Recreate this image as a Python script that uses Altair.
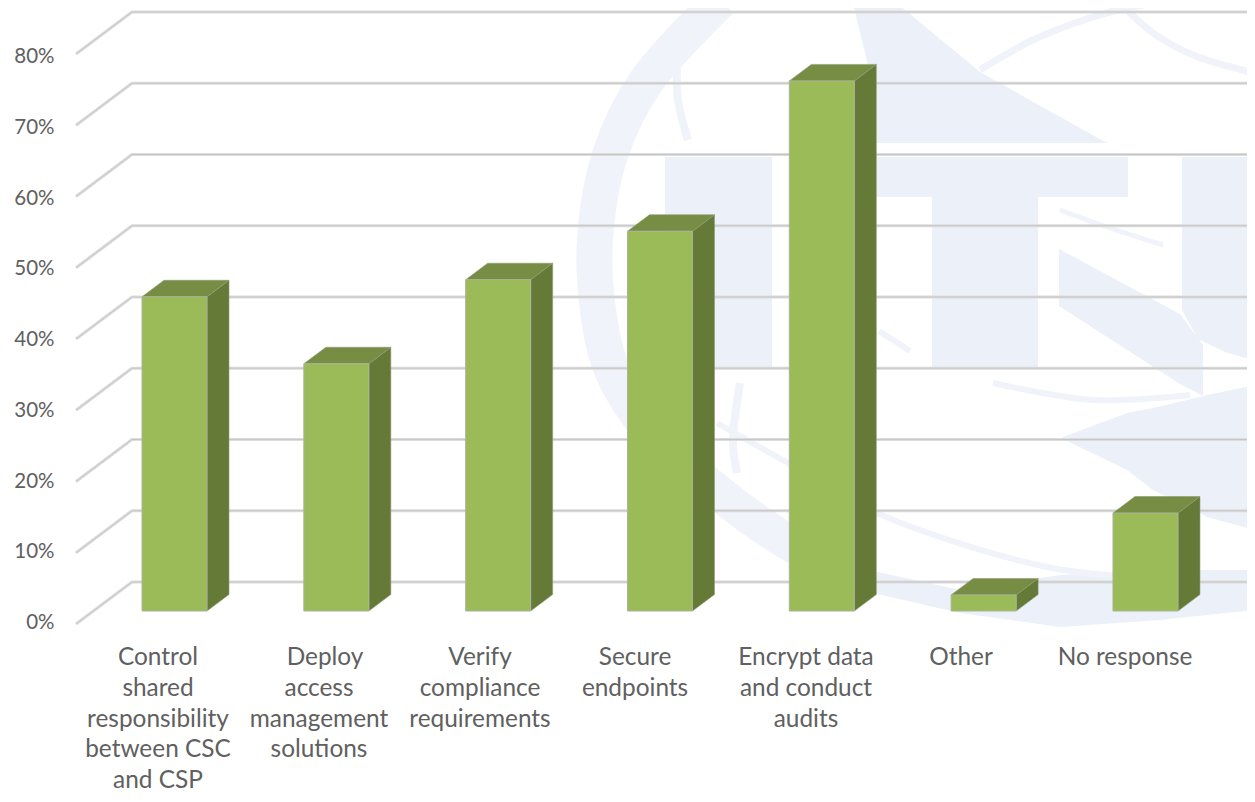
import altair as alt
import pandas as pd

# ---- chart values ----
categories = [
    ["Control", "shared", "responsibility", "between CSC", "and CSP"],
    ["Deploy", "access", "management", "solutions"],
    ["Verify", "compliance", "requirements"],
    ["Secure", "endpoints"],
    ["Encrypt data", "and conduct", "audits"],
    ["Other"],
    ["No response"],
]
values = [44.1, 34.7, 46.5, 53.3, 74.4, 2.25, 13.75]
ticks = [0, 10, 20, 30, 40, 50, 60, 70, 80]

# ---- layout helpers: category units and percent units ----
W, H = 1239, 786
STEP, X0 = 161.83, 174.5
PCT, Y0 = 7.125, 611.0


def U(px):
    return (px - X0) / STEP


def V(py):
    return (Y0 - py) / PCT


HALF = 32.5 / STEP
DX = 22 / STEP
DV = 16.5 / PCT
xs = alt.Scale(domain=[U(8), U(8 + W)], nice=False, zero=False)
ys = alt.Scale(domain=[V(8 + H), V(8)], nice=False, zero=False)
X = alt.X("x:Q", scale=xs, axis=None)
Y = alt.Y("y:Q", scale=ys, axis=None)
X2 = alt.X2("x2:Q")
Y2 = alt.Y2("y2:Q")

WM = "#ecf0f9"
WM2 = "#f0f3fa"

# ---- faint logo behind the chart ----
wm_rects = [(665, 772, 157, 367), (790, 1128, 157, 197), (932, 1038, 197, 367)]
wm_areas = {
    "wedge": ([852, 868, 876, 893, 980, 1107], [0, 0, 0, 0, 72, 143], [0, 65, 143, 143, 143, 143]),
    "u": ([1182, 1198, 1225, 1255], [157, 157, 157, 157], [310, 339, 352, 361]),
    "band": ([1059, 1180, 1203], [249, 314, 345], [306, 384, 396]),
    "right": ([1063, 1127, 1153, 1200, 1207, 1255], [437, 413, 408, 397, 395, 385], [439, 470, 490, 513, 517, 530]),
    "lens": ([860, 960, 1060, 1160, 1255], [568, 590, 575, 570, 570], [590, 613, 627, 620, 610]),
}
wm_lines = [
    (36, [(721, 0), (645, 83), (610, 155), (595, 240), (598, 310), (612, 370), (650, 430), (715, 490), (788, 542), (862, 578)]),
    (7, [(980, 70), (1033, 40), (1093, 17), (1127, 8), (1177, 0)]),
    (7, [(1120, 3), (1153, 33), (1193, 55), (1255, 73)]),
    (8, [(677, 63), (678, 100), (688, 140)]),
    (5, [(1060, 210), (1110, 228), (1163, 245)]),
    (6, [(993, 383), (1093, 400), (1190, 395)]),
    (8, [(740, 383), (733, 443), (737, 473)]),
    (6, [(717, 423), (788, 463), (879, 514), (1047, 567), (1150, 578)]),
    (6, [(879, 331), (910, 351)]),
]

layers = []
rect_df = pd.DataFrame(
    [{"x": U(a), "x2": U(b), "y": V(c), "y2": V(d)} for a, b, c, d in wm_rects]
)
layers.append(alt.Chart(rect_df).mark_rect(color=WM).encode(x=X, x2=X2, y=Y, y2=Y2))

area_rows = []
for name, (ax, at, ab) in wm_areas.items():
    for a, b, c in zip(ax, at, ab):
        area_rows.append({"id": name, "x": U(a), "y": V(b), "y2": V(c)})
layers.append(
    alt.Chart(pd.DataFrame(area_rows))
    .mark_area(color=WM, clip=True)
    .encode(x=X, y=Y, y2=Y2, detail="id:N")
)

line_rows = []
for i, (w, pts) in enumerate(wm_lines):
    for k, (a, b) in enumerate(pts):
        line_rows.append({"id": i, "k": k, "w": w, "x": U(a), "y": V(b)})
layers.append(
    alt.Chart(pd.DataFrame(line_rows))
    .mark_line(color=WM2, interpolate="catmull-rom", clip=True, strokeCap="butt")
    .encode(
        x=X,
        y=Y,
        detail="id:N",
        order="k:Q",
        strokeWidth=alt.StrokeWidth("w:Q", scale=None),
    )
)

# ---- grid: a wall line and a floor-side line for each tick ----
BACK, FRONT = V(582), V(624)
grid_rows = []
for t in ticks:
    grid_rows.append({"id": t, "k": 0, "x": U(76), "y": t + FRONT})
    grid_rows.append({"id": t, "k": 1, "x": U(132), "y": t + BACK})
    grid_rows.append({"id": t, "k": 2, "x": U(8 + W), "y": t + BACK})
grid_df = pd.DataFrame(grid_rows)
for color, sw in (("#dcdcdc", 3.2), ("#c6c6c6", 1.0)):
    layers.append(
        alt.Chart(grid_df)
        .mark_line(color=color, strokeWidth=sw, strokeJoin="round")
        .encode(x=X, y=Y, detail="id:N", order="k:Q")
    )

# ---- bars: side and top faces, then the front ----
side_rows, top_rows, front_rows = [], [], []
for i, v in enumerate(values):
    l, r = i - HALF, i + HALF
    side_rows += [
        {"id": i, "x": r, "y": v, "y2": 0},
        {"id": i, "x": r + DX, "y": v + DV, "y2": DV},
    ]
    top_rows += [
        {"id": i, "x": l, "y": v, "y2": v},
        {"id": i, "x": l + DX, "y": v + DV, "y2": v},
        {"id": i, "x": r, "y": v + DV, "y2": v},
        {"id": i, "x": r + DX, "y": v + DV, "y2": v + DV},
    ]
    front_rows.append({"x": l, "x2": r, "y": v, "y2": 0})

layers.append(
    alt.Chart(pd.DataFrame(side_rows))
    .mark_area(color="#657a36", stroke="#8e9a78", strokeWidth=0.6)
    .encode(x=X, y=Y, y2=Y2, detail="id:N")
)
layers.append(
    alt.Chart(pd.DataFrame(top_rows))
    .mark_area(color="#778d44", stroke="#8e9a78", strokeWidth=0.6)
    .encode(x=X, y=Y, y2=Y2, detail="id:N")
)
layers.append(
    alt.Chart(pd.DataFrame(front_rows))
    .mark_rect(color="#9bbb59", stroke="#a9b598", strokeWidth=1)
    .encode(x=X, x2=X2, y=Y, y2=Y2)
)

# ---- text ----
FONT = "Lato"
TXT = "#606060"
tick_df = pd.DataFrame(
    [{"x": U(54.5), "y": V(623 - 7.075 * t), "t": f"{t}%"} for t in ticks]
)
layers.append(
    alt.Chart(tick_df)
    .mark_text(align="right", baseline="middle", font=FONT, fontSize=20.5, color=TXT)
    .encode(x=X, y=Y, text="t:N")
)

label_centers = [158, 319, 480, 635, 806, 961, 1125]
line_y = [658, 688.5, 719.5, 750, 780.5]
label_rows = []
for c, lines in zip(label_centers, categories):
    for j, s in enumerate(lines):
        shift = 6 if s == "Deploy" else 0
        label_rows.append({"x": U(c + shift), "y": V(line_y[j]), "t": s})
layers.append(
    alt.Chart(pd.DataFrame(label_rows))
    .mark_text(align="center", baseline="middle", font=FONT, fontSize=24.4, color=TXT)
    .encode(x=X, y=Y, text="t:N")
)

chart = (
    alt.layer(*layers)
    .properties(width=W, height=H, padding=0, autosize=alt.AutoSizeParams(type="none"), background="white")
    .configure_view(stroke=None)
)
chart.save("out.html", embed_options={"renderer": "svg", "actions": False})
